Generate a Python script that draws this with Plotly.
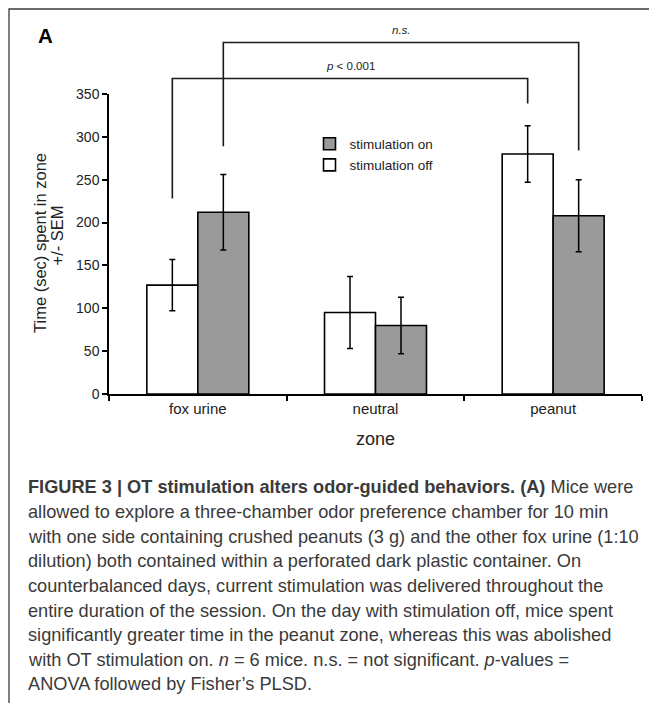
import plotly.graph_objects as go

# ---------------- data ----------------
zones = ["fox urine", "neutral", "peanut"]
stim_off = [127, 95, 280]
stim_off_sem = [30, 42, 33]
stim_on = [212, 80, 208]
stim_on_sem = [44, 33, 42]

# significance brackets: (left zone, left series, right zone, right series, left drop, right drop, top, label)
brackets = [
    (0, "off", 2, "off", 228, 339, 368, "<i>p</i> < 0.001"),
    (0, "on", 2, "on", 289, 284, 410, "<i>n.s.</i>"),
]

caption_lines = [
    "<b>FIGURE 3 | OT stimulation alters odor-guided behaviors. (A)</b> Mice were",
    "allowed to explore a three-chamber odor preference chamber for 10 min",
    "with one side containing crushed peanuts (3 g) and the other fox urine (1:10",
    "dilution) both contained within a perforated dark plastic container. On",
    "counterbalanced days, current stimulation was delivered throughout the",
    "entire duration of the session. On the day with stimulation off, mice spent",
    "significantly greater time in the peanut zone, whereas this was abolished",
    "with OT stimulation on. <i>n</i> = 6 mice. n.s. = not significant. <i>p</i>-values =",
    "ANOVA followed by Fisher’s PLSD.",
]

# ---------------- layout geometry (page pixels) ----------------
PAGE_W, PAGE_H = 657, 703
OFF = 8  # default body margin of the page
W, H = PAGE_W - OFF, PAGE_H - OFF
PLOT_L, PLOT_R, PLOT_T, PLOT_B = 109, 642, 94, 394  # plot area in page pixels
ML, MR, MT, MB = PLOT_L - OFF, PAGE_W - PLOT_R, PLOT_T - OFF, PAGE_H - PLOT_B
PW, PH = PLOT_R - PLOT_L, PLOT_B - PLOT_T
Y_MAX = 350
BARGAP = 0.426
FONT = "Liberation Sans, Arial, Helvetica, sans-serif"


def px_x(px):
    return (px - PLOT_L) / PW


def px_y(py):
    return (PLOT_B - py) / PH


bar_w = (1 - BARGAP) / 2
series_offset = {"off": -bar_w / 2, "on": bar_w / 2}

fig = go.Figure()
fig.add_trace(go.Bar(
    name="stimulation off", x=zones, y=stim_off, legendgroup="off", legendrank=2,
    marker=dict(color="white", line=dict(color="black", width=1.6)),
    error_y=dict(type="data", array=stim_off_sem, color="black", thickness=1.5, width=3),
))
fig.add_trace(go.Bar(
    name="stimulation on", x=zones, y=stim_on, legendgroup="on", legendrank=1,
    marker=dict(color="#9a9a9a", line=dict(color="black", width=1.6)),
    error_y=dict(type="data", array=stim_on_sem, color="black", thickness=1.5, width=3),
))

shapes = []
annotations = []
for (z0, s0, z1, s1, d0, d1, top, label) in brackets:
    xa = z0 + series_offset[s0]
    xb = z1 + series_offset[s1]
    path = (f"M {xa} {d0 / Y_MAX} L {xa} {top / Y_MAX} "
            f"L {xb} {top / Y_MAX} L {xb} {d1 / Y_MAX}")
    shapes.append(dict(type="path", path=path, xref="x", yref="paper",
                       line=dict(color="#1a1a1a", width=1.6)))
    annotations.append(dict(x=(xa + xb) / 2, y=top / Y_MAX, xref="x", yref="paper",
                            text=label, showarrow=False, yanchor="bottom", yshift=5,
                            font=dict(family=FONT, size=11.5, color="#222")))

# outer frame
shapes.append(dict(type="rect", xref="paper", yref="paper",
                   x0=px_x(9), x1=px_x(690), y0=px_y(740), y1=px_y(9),
                   line=dict(color="#3a3a3a", width=1.3)))

# panel letter
annotations.append(dict(x=px_x(35.5), y=px_y(36), xref="paper", yref="paper",
                        text="<b>A</b>", showarrow=False, xanchor="left", yanchor="middle",
                        font=dict(family=FONT, size=20.5, color="black")))

# y-axis title (two lines)
annotations.append(dict(x=px_x(40), y=px_y(243), xref="paper", yref="paper",
                        text="Time (sec) spent in zone", textangle=-90, showarrow=False,
                        xanchor="center", yanchor="middle",
                        font=dict(family=FONT, size=16.5, color="#222")))
annotations.append(dict(x=px_x(56.5), y=px_y(236), xref="paper", yref="paper",
                        text="+/- SEM", textangle=-90, showarrow=False,
                        xanchor="center", yanchor="middle",
                        font=dict(family=FONT, size=16.5, color="#222")))

# caption
for i, line in enumerate(caption_lines):
    annotations.append(dict(x=px_x(26), y=px_y(487.5 + 24.6 * i), xref="paper", yref="paper",
                            text=line, showarrow=False, xanchor="left", yanchor="middle",
                            align="left",
                            font=dict(family=FONT, size=18.2, color="#3a3a3a")))

fig.update_layout(
    width=W, height=H,
    margin=dict(l=ML, r=MR, t=MT, b=MB, pad=0),
    paper_bgcolor="white", plot_bgcolor="white",
    barmode="group", bargap=BARGAP, bargroupgap=0,
    font=dict(family=FONT, color="#222"),
    shapes=shapes, annotations=annotations,
    legend=dict(x=px_x(309.5), y=px_y(128.5), xanchor="left", yanchor="top",
                traceorder="grouped", bgcolor="rgba(0,0,0,0)",
                font=dict(family=FONT, size=13.5, color="#222"),
                tracegroupgap=0.5, itemclick=False),
    xaxis=dict(showline=True, linecolor="black", linewidth=1.5,
               ticks="outside", ticklen=5, tickwidth=1.5, tickcolor="black",
               tickson="boundaries", range=[-0.5, 2.5], showgrid=False, zeroline=False,
               tickfont=dict(family=FONT, size=15, color="#222"),
               title=dict(text="zone", font=dict(family=FONT, size=18, color="#222"),
                          standoff=17)),
    yaxis=dict(showline=True, linecolor="black", linewidth=1.5,
               ticks="outside", ticklen=5, tickwidth=1.5, tickcolor="black",
               range=[0, Y_MAX], dtick=50, showgrid=False, zeroline=False,
               tickfont=dict(family=FONT, size=14, color="#222")),
)

fig.write_html("out.html")
